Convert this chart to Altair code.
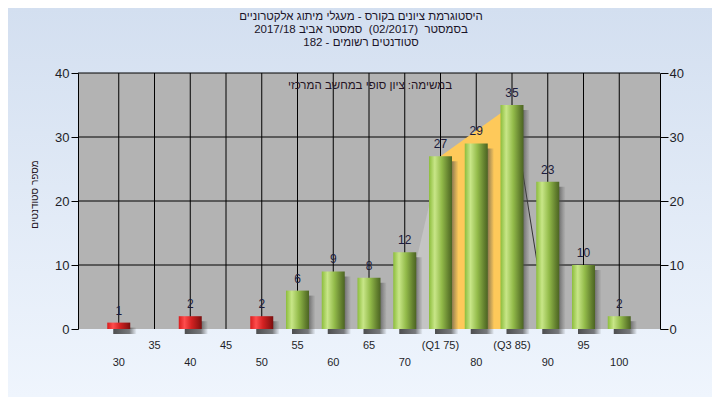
import altair as alt
import pandas as pd

# ---- data ----
categories = [30, 35, 40, 45, 50, 55, 60, 65, 70, 75, 80, 85, 90, 95, 100]
counts = [1, 0, 2, 0, 2, 6, 9, 8, 12, 27, 29, 35, 23, 10, 2]
tick_labels = ["30", "35", "40", "45", "50", "55", "60", "65", "70",
               "(Q1 75)", "80", "(Q3 85)", "90", "95", "100"]
pass_mark = 55
y_ticks = [0, 10, 20, 30, 40]
grid_y = [10, 20, 30, 40]
# quartile band (Q1 -> Q3), lower wedge and upper tail line
band_x = [75, 85]
band_y = [27, 35]
wedge_x = [69.4, 75]
wedge_y = [0, 27]
tail_x = [85, 90]
tail_y = [35, 0]

NB = "\u00a0"
title_lines = [
    "היסטוגרמת ציונים בקורס - מעגלי מיתוג אלקטרוניים",
    "בסמסטר" + NB + NB + "(02/2017)" + NB + NB + "סמסטר אביב 2017/18",
    "סטודנטים רשומים - 182",
]
note_text = "במשימה: ציון סופי במחשב המרכזי"
x_title = "טווח ציונים"
y_title = "מספר סטודנטים"

# ---- layout ----
W, H = 582, 256
PAD = {"left": 70, "top": 65, "right": 52, "bottom": 68}
FONT = "Liberation Sans"
TXT = "#1e1e28"

df = pd.DataFrame({
    "category": categories,
    "count": counts,
    "label": tick_labels,
})
df["row"] = [1 if i % 2 else 2 for i in range(len(df))]
df["fail"] = df["category"] < pass_mark
one = pd.DataFrame({"k": [0]})

xs = alt.Scale(domain=[25, 105], nice=False, zero=False)
ys = alt.Scale(domain=[0, 40], nice=False)

x_axis = alt.Axis(values=categories, labels=False, ticks=True, tickSize=4,
                  tickColor="black", domainColor="black", grid=False,
                  title=x_title, titleFont=FONT, titleFontSize=11.5,
                  titleFontWeight="normal", titleColor="#241424",
                  titleX=289, titleY=57, titleBaseline="alphabetic",
                  titleAlign="center", zindex=1)
left_axis = alt.Axis(orient="left", values=y_ticks, tickSize=7, tickColor="black",
                     domainColor="black", labelFont=FONT, labelFontSize=13,
                     labelColor=TXT, labelPadding=2, grid=False,
                     title=y_title, titleFont=FONT, titleFontSize=10,
                     titleFontWeight="normal", titleColor="#241424", titleAngle=270,
                     titleX=-44, titleY=121, titleAlign="center",
                     titleBaseline="middle", zindex=1)
right_axis = alt.Axis(orient="right", values=y_ticks, tickSize=8, tickColor="black",
                      domainColor="black", labelFont=FONT, labelFontSize=13,
                      labelColor=TXT, labelPadding=1, grid=False, title=None,
                      zindex=1)


def grad(stops, horizontal=True):
    return alt.Gradient(
        gradient="linear",
        stops=[alt.GradientStop(color=c, offset=o) for o, c in stops],
        x1=0, x2=1 if horizontal else 0, y1=0, y2=0 if horizontal else 1,
    )


green = grad([(0, "#8cbd3c"), (0.25, "#c8e688"), (0.55, "#93bb4a"),
              (0.85, "#627f2e"), (1, "#4c6423")])
red = grad([(0, "#d81c1c"), (0.25, "#ff4d4d"), (0.55, "#d42222"),
            (0.85, "#9a1515"), (1, "#780e0e")])
shadow = grad([(0, "rgba(60,60,60,0.9)"), (0.7, "rgba(70,70,70,0.7)"),
               (1, "rgba(90,90,90,0.05)")])
bg = grad([(0, "#d3dff0"), (1, "#eff5fd")], horizontal=False)

background = alt.Chart(one).mark_rect(color=bg).encode(
    x=alt.value(-PAD["left"]), x2=alt.value(W + PAD["right"]),
    y=alt.value(-PAD["top"]), y2=alt.value(H + PAD["bottom"]))

plot_bg = alt.Chart(one).mark_rect(color="#b3b3b3").encode(
    x=alt.value(0), x2=alt.value(W), y=alt.value(0), y2=alt.value(H))

vgrid = alt.Chart(df).mark_rule(color="black", strokeWidth=1).encode(
    x=alt.X("category:Q", scale=xs, axis=None),
    y=alt.value(0), y2=alt.value(H))

hgrid = alt.Chart(pd.DataFrame({"v": grid_y})).mark_rule(
    color="black", strokeWidth=1).encode(
    y=alt.Y("v:Q", scale=ys, axis=right_axis),
    x=alt.value(0), x2=alt.value(W))

wedge = alt.Chart(pd.DataFrame({"x": wedge_x, "y": wedge_y})).mark_area(
    color="#c4c4c4").encode(
    x=alt.X("x:Q", scale=xs, axis=None), y=alt.Y("y:Q", scale=ys, axis=None))

band = alt.Chart(pd.DataFrame({"x": band_x, "y": band_y})).mark_area(
    color="#fec95a").encode(
    x=alt.X("x:Q", scale=xs, axis=None), y=alt.Y("y:Q", scale=ys, axis=None))

tail = alt.Chart(pd.DataFrame({"x": tail_x, "y": tail_y})).mark_line(
    color="#333333", strokeWidth=1).encode(
    x=alt.X("x:Q", scale=xs, axis=None), y=alt.Y("y:Q", scale=ys, axis=None))

shadows = alt.Chart(df).transform_filter("datum.count > 0").mark_bar(
    size=23, xOffset=6, yOffset=5, color=shadow).encode(
    x=alt.X("category:Q", scale=xs, axis=None),
    y=alt.Y("count:Q", scale=ys, axis=None))

bars_red = alt.Chart(df).transform_filter("datum.fail").mark_bar(
    size=23, color=red).encode(
    x=alt.X("category:Q", scale=xs, axis=None),
    y=alt.Y("count:Q", scale=ys, axis=None))

bars_green = alt.Chart(df).transform_filter("!datum.fail").mark_bar(
    size=23, color=green).encode(
    x=alt.X("category:Q", scale=xs, axis=x_axis),
    y=alt.Y("count:Q", scale=ys, axis=left_axis))

values = alt.Chart(df).transform_filter("datum.count > 0").mark_text(
    dy=-8, baseline="alphabetic", fontSize=12, font=FONT, color="#1c1c3c").encode(
    x=alt.X("category:Q", scale=xs, axis=None),
    y=alt.Y("count:Q", scale=ys, axis=None),
    text="count:Q")

xlab1 = alt.Chart(df).transform_filter("datum.row == 1").mark_text(
    baseline="alphabetic", fontSize=11, font=FONT, color=TXT).encode(
    x=alt.X("category:Q", scale=xs, axis=None), y=alt.value(H + 20),
    text="label:N")
xlab2 = alt.Chart(df).transform_filter("datum.row == 2").mark_text(
    baseline="alphabetic", fontSize=11, font=FONT, color=TXT).encode(
    x=alt.X("category:Q", scale=xs, axis=None), y=alt.value(H + 37),
    text="label:N")

note = alt.Chart(one).mark_text(
    baseline="alphabetic", fontSize=11.5, font=FONT, color="#241424").encode(
    x=alt.value(292), y=alt.value(16), text=alt.value(note_text))

title = alt.Chart(one).mark_text(
    baseline="alphabetic", fontSize=11.5, lineHeight=13, font=FONT,
    color="#1a1428").encode(
    x=alt.value(283), y=alt.value(-53.5), text=alt.value(title_lines))

chart = alt.layer(
    background, plot_bg, vgrid, hgrid, wedge, band, tail, shadows,
    bars_red, bars_green, values, xlab1, xlab2, note, title
).resolve_scale(y="independent").properties(
    width=W, height=H, padding=PAD,
    autosize=alt.AutoSizeParams(type="none"),
    background="#e2eaf6",
).configure_view(strokeWidth=0)

chart.save("out.html", embed_options={"renderer": "svg", "actions": False})
